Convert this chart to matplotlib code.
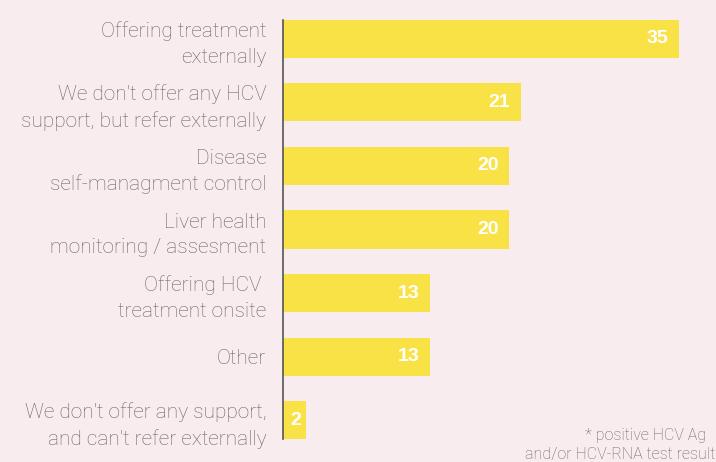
import matplotlib.pyplot as plt

categories = [
    "Offering treatment\nexternally",
    "We don't offer any HCV\nsupport, but refer externally",
    "Disease\nself-managment control",
    "Liver health\nmonitoring / assesment",
    "Offering HCV \ntreatment onsite",
    "Other",
    "We don't offer any support,\nand can't refer externally",
]
values = [35, 21, 20, 20, 13, 13, 2]
footnote = ["* positive HCV Ag", "and/or HCV-RNA test result"]

bg = '#F9ECEE'
bar_color = '#F9E246'
text_color = '#666666'

fig = plt.figure(figsize=(7.16, 4.62), dpi=100, facecolor=bg)
ax = fig.add_axes([283 / 716, 10 / 462, 433 / 716, 445 / 462])
ax.set_facecolor(bg)

ypos = list(range(len(values)))
ax.barh(ypos, values, height=0.6, color=bar_color, zorder=2)
ax.set_ylim(len(values) - 0.5, -0.5)
ax.set_xlim(0, 35 / (396 / 433))

for s in ['top', 'right', 'bottom']:
    ax.spines[s].set_visible(False)
ax.spines['left'].set_color('#555555')
ax.spines['left'].set_linewidth(1.2)
ax.spines['left'].set_bounds(-0.3, len(values) - 1 + 0.3)
ax.set_xticks([])
ax.set_yticks(ypos)
ax.set_yticklabels(categories, fontsize=15, color=text_color,
                   family='Roboto', fontweight='light', linespacing=1.45)
ax.tick_params(axis='y', length=0, pad=12)

for i, v in enumerate(values):
    if v < 4:
        ax.text(v / 2 + 0.1, i, str(v), color='white', fontsize=14, fontweight='bold',
                family='Liberation Sans', ha='center', va='center', zorder=3)
    else:
        ax.text(v - 0.95, i, str(v), color='white', fontsize=14, fontweight='bold',
                family='Liberation Sans', ha='right', va='center', zorder=3)

fig.text(706 / 716, 22 / 462, footnote[0], ha='right', va='baseline',
         fontsize=11.5, color=text_color, family='Roboto', fontweight='light')
fig.text(715 / 716, 3 / 462, footnote[1], ha='right', va='baseline',
         fontsize=11.5, color=text_color, family='Roboto', fontweight='light')

fig.savefig('out.png', dpi=100, facecolor=bg)
